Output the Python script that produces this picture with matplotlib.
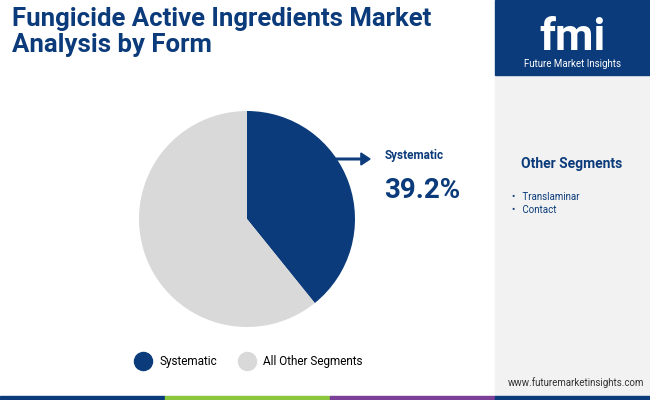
import matplotlib
matplotlib.use("Agg")
import matplotlib.pyplot as plt
from matplotlib.patches import Rectangle, FancyArrow
from matplotlib.lines import Line2D

labels = ["Systematic", "All Other Segments"]
values = [39.2, 60.8]
colors = ["#0b3b7a", "#d9d9d9"]
other_segments = ["Translaminar", "Contact"]

plt.rcParams['font.family'] = ['Roboto', 'DejaVu Sans']
fig = plt.figure(figsize=(6.5, 4), dpi=100)
W, H = 650, 400
def fx(x): return x / W
def fy(y): return 1 - y / H

fig.patches.append(Rectangle((fx(495), fy(400)), fx(155), 325/H, transform=fig.transFigure, color="#f2f2f2", zorder=0))
fig.patches.append(Rectangle((fx(495), fy(75)), fx(155), 75/H, transform=fig.transFigure, color="#0b3b7a", zorder=0))
for x0, x1, c in [(0, 165, "#0b3b7a"), (165, 330, "#8cc63f"), (330, 495, "#7b3f98"), (495, 650, "#0b3b7a")]:
    fig.patches.append(Rectangle((fx(x0), 0), fx(x1 - x0), 4/H, transform=fig.transFigure, color=c, zorder=1))

fig.text(fx(12), fy(7), "Fungicide Active Ingredients Market\nAnalysis by Form", ha="left", va="top",
         fontsize=18.5, fontweight="bold", color="#0b3b7a", linespacing=1.1)

fig.text(fx(572), fy(38), "fmi", ha="center", va="center", fontsize=32, fontweight="bold", color="white")
fig.text(fx(572), fy(64), "Future Market Insights", ha="center", va="center", fontsize=7, color="white")

fig.text(fx(572), fy(164), "Other Segments", ha="center", va="center", fontsize=10, fontweight="bold", color="#0b3b7a")
for i, s in enumerate(other_segments):
    fig.text(fx(512), fy(197 + i * 13), "•   " + s, ha="left", va="center", fontsize=7, color="#0b3b7a")
fig.text(fx(644), fy(383), "www.futuremarketinsights.com", ha="right", va="center", fontsize=7, color="#333333")

ax = fig.add_axes([fx(139), fy(327), 216/W, 216/H])
ax.pie(values, colors=colors, startangle=90, counterclock=False, radius=1,
       wedgeprops=dict(linewidth=0))
ax.set_xlim(-1, 1); ax.set_ylim(-1, 1)
ax.set_aspect("equal")

fig.patches.append(FancyArrow(fx(336), fy(159), fx(34), 0, width=0.004, head_width=0.03, head_length=0.014,
                              length_includes_head=True, transform=fig.transFigure, color="#0b3b7a"))
fig.text(fx(385), fy(156), "Systematic", ha="left", va="center", fontsize=8.5, fontweight="bold", color="#0b3b7a")
fig.text(fx(384), fy(190), "39.2%", ha="left", va="center", fontsize=20, fontweight="bold", color="#0b3b7a")

handles = [Line2D([], [], marker="o", linestyle="", markersize=13, color=c) for c in colors]
fig.legend(handles, labels, loc="center", bbox_to_anchor=(fx(247), fy(362)), ncol=2, frameon=False,
           fontsize=8.5, handletextpad=0.4, columnspacing=1.5)

fig.savefig("out.png", dpi=100)
